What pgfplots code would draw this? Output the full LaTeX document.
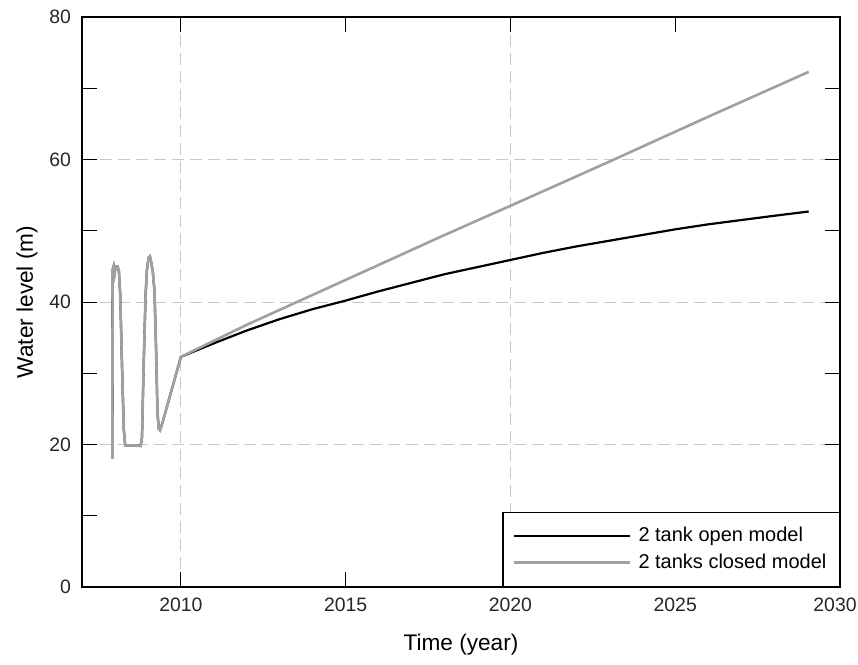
\documentclass[border=0pt]{standalone}
\usepackage{fontspec}
\setmainfont{Liberation Sans}
\usepackage{pgfplots}
\pgfplotsset{compat=1.18}
\usetikzlibrary{calc}
\definecolor{closedgray}{RGB}{160,160,160}
\definecolor{gridgray}{RGB}{200,200,200}
\begin{document}
\begin{tikzpicture}
\begin{axis}[
  scale only axis,
  width=379pt, height=285pt,
  xmin=2007, xmax=2030,
  ymin=0, ymax=80,
  xtick={2010,2015,2020,2025},
  minor xtick={2010,2020},
  xminorgrids=true,
  extra x ticks={2030},
  extra x tick style={xticklabel style={xshift=-2.5pt}},
  ytick={0,20,40,60,80},
  minor ytick={10,30,50,70},
  ymajorgrids=true,
  major grid style={draw=gridgray, line width=0.5pt, dash pattern=on 6pt off 3pt},
  minor grid style={draw=gridgray, line width=0.5pt, dash pattern=on 6pt off 3pt},
  tick align=inside,
  major tick length=7.5pt,
  minor tick length=7.5pt,
  tick style={black, line width=0.5pt},
  axis line style={black, line width=0.6pt},
  /pgf/number format/assume math mode=true,
  /pgf/number format/1000 sep={},
  ticklabel style={font=\fontsize{9.7}{11.6}\selectfont, text=black!85},
  xticklabel style={yshift=-2pt},
  yticklabel style={xshift=-2pt},
  xlabel={Time (year)},
  ylabel={Water level (m)},
  every axis x label/.style={at={(axis description cs:0.5,0)}, anchor=center, yshift=-29pt, font=\fontsize{11.3}{13.5}\selectfont},
  every axis y label/.style={at={(axis description cs:0,0.5)}, anchor=center, rotate=90, yshift=27.5pt, font=\fontsize{11.3}{13.5}\selectfont},
  legend style={at={(1,0)}, anchor=south east, draw=black, line width=0.6pt, fill=white,
    font=\fontsize{10}{12}\selectfont, inner xsep=5pt, inner ysep=6pt,
    nodes={inner sep=1.5pt}, row sep=1.5pt,
    /tikz/every odd column/.append style={column sep=2pt}},
  legend cell align=left,
  legend image code/.code={\draw[#1] (0pt,0pt) -- (58pt,0pt);},
]
\addplot[black, line width=1.1pt] coordinates {
(2007.92,18.0) (2007.93,44.5) (2007.96,45.0) (2007.99,44.0) (2008.02,45.0) (2008.08,45.0) (2008.12,44.3)
(2008.16,41.0) (2008.22,30.0) (2008.27,22.0) (2008.31,19.9) (2008.78,19.8) (2008.82,21.0) (2008.87,31.0)
(2008.93,41.0) (2008.97,44.5) (2009.02,46.2) (2009.06,46.4) (2009.10,45.6) (2009.15,44.2) (2009.20,41.5)
(2009.25,33.0) (2009.29,24.5) (2009.33,22.2) (2009.37,22.0) (2009.45,23.2) (2010,32.3)
(2011,34.2) (2012,36.0) (2013,37.6) (2014,39.0) (2015,40.2) (2016,41.5) (2017,42.7) (2018,43.9) (2019,44.9)
(2020,45.9) (2021,46.9) (2022,47.8) (2023,48.6) (2024,49.4) (2025,50.2) (2026,50.9) (2027,51.5) (2028,52.1) (2029.05,52.7)
};
\addlegendentry{2 tank open model}
\addplot[closedgray, line width=1.3pt] coordinates {
(2007.92,18.0) (2007.93,44.5) (2007.96,45.0) (2007.99,44.0) (2008.02,45.0) (2008.08,45.0) (2008.12,44.3)
(2008.16,41.0) (2008.22,30.0) (2008.27,22.0) (2008.31,19.9) (2008.78,19.8) (2008.82,21.0) (2008.87,31.0)
(2008.93,41.0) (2008.97,44.5) (2009.02,46.2) (2009.06,46.4) (2009.10,45.6) (2009.15,44.2) (2009.20,41.5)
(2009.25,33.0) (2009.29,24.5) (2009.33,22.2) (2009.37,22.0) (2009.45,23.2) (2010,32.3)
(2012,36.8) (2015,43.1) (2018,49.4) (2020,53.5) (2023,59.7) (2026,66.0) (2029.05,72.3)
};
\addlegendentry{2 tanks closed model}
\end{axis}
\pgfresetboundingbox
\path[use as bounding box] ($(current axis.south west)+(-41pt,-38.5pt)$) rectangle ($(current axis.north east)+(9pt,8.5pt)$);
\end{tikzpicture}
\end{document}
